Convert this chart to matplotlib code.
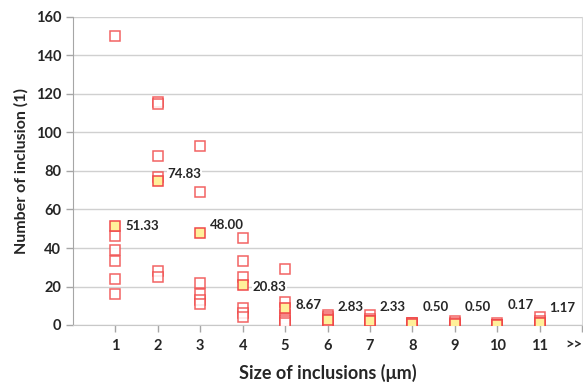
import matplotlib
matplotlib.use("Agg")
import matplotlib.pyplot as plt

sizes = [1, 2, 3, 4, 5, 6, 7, 8, 9, 10, 11]
tick_labels = ["1", "2", "3", "4", "5", "6", "7", "8", "9", "10", "11", ">>"]
samples = [
    [150, 46, 39, 33, 24, 16],
    [116, 115, 88, 77, 28, 25],
    [93, 69, 22, 16, 13, 11],
    [45, 33, 25, 9, 6, 4],
    [29, 12, 5, 3, 2, 1],
    [5, 4, 3, 2, 2, 1],
    [5, 3, 2, 2, 1, 1],
    [1, 1, 1, 0, 0, 0],
    [2, 1, 0, 0, 0, 0],
    [1, 0, 0, 0, 0, 0],
    [4, 2, 1, 0, 0, 0],
]
means = [51.33, 74.83, 48.00, 20.83, 8.67, 2.83, 2.33, 0.50, 0.50, 0.17, 1.17]
# label offsets in pixels (style only)
label_dy = [0, 7, 8, -2, 3, 13, 14, 17, 17, 20, 15]

plt.rcParams['font.family'] = ['Lato', 'DejaVu Sans']

fig = plt.figure(figsize=(5.83, 3.85), dpi=100)
ax = fig.add_axes([73/583, 60/385, 509/583, 308/385])

red = "#f04848"
for x, vals in zip(sizes, samples):
    ax.plot([x]*len(vals), vals, linestyle="none", marker="s", markersize=7.2,
            markerfacecolor="white", markeredgecolor=red, markeredgewidth=1.1,
            alpha=0.85, zorder=3)
ax.plot(sizes, means, linestyle="none", marker="s", markersize=7.2,
        markerfacecolor="#fff09a", markeredgecolor=red, markeredgewidth=1.1,
        zorder=4)
for x, m, dy in zip(sizes, means, label_dy):
    ax.annotate(f"{m:.2f}", (x, m), xytext=(10, dy), textcoords="offset pixels",
                ha="left", va="center", fontsize=9.5, fontweight="bold",
                color="#262626", zorder=5,
                bbox=dict(facecolor="white", edgecolor="none", pad=0.5))

ax.set_xlim(0, 12)
ax.set_ylim(0, 160)
ax.set_yticks(range(0, 161, 20))
ax.set_xticks(range(1, 13))
ax.set_xticklabels(tick_labels)
ax.grid(axis="y", color="#d0d0d0", linewidth=1.0, zorder=0)
ax.set_axisbelow(True)
ax.spines["top"].set_visible(False)
ax.spines["right"].set_color("#d9d9d9")
ax.spines["left"].set_color("#a6a6a6")
ax.spines["bottom"].set_color("#c8c8c8")
ax.tick_params(axis="both", colors="#a6a6a6", length=5, width=1,
               labelcolor="#262626", labelsize=10.5)
ax.tick_params(axis="x", pad=5)
for t in ax.get_xticklabels() + ax.get_yticklabels():
    t.set_fontweight("bold")
ax.get_xticklabels()[-1].set_horizontalalignment("right")

ax.set_xlabel("Size of inclusions (μm)", fontsize=13, fontweight="bold",
              color="#262626", labelpad=8)
ax.set_ylabel("Number of inclusion (1)", fontsize=11.5, fontweight="bold",
              color="#262626", labelpad=5)

fig.savefig("out.png", dpi=100)
